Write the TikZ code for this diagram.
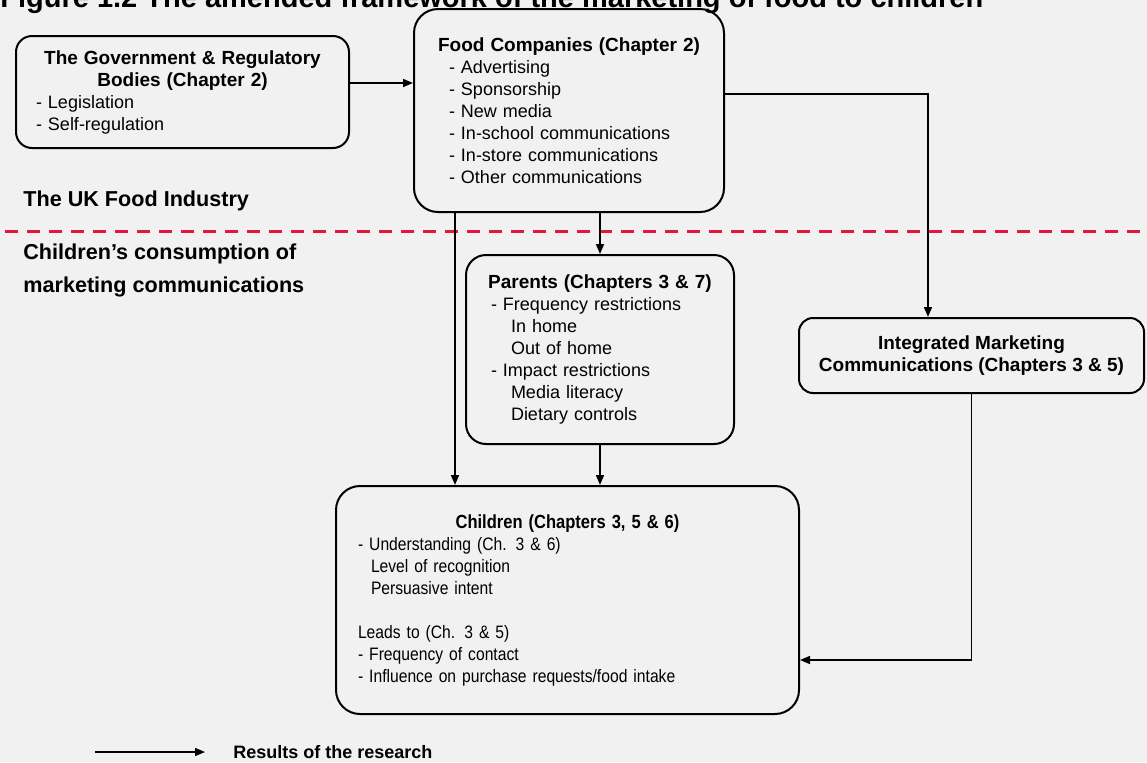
\documentclass[tikz,border=0pt]{standalone}
\usepackage{fontspec}
\setmainfont{Liberation Sans}
\newfontfamily\narrowsf[FakeStretch=0.87]{Liberation Sans}
\usetikzlibrary{arrows.meta}
\definecolor{divred}{RGB}{222,24,62}
\definecolor{scanbg}{RGB}{241,241,241}
\newcommand\hd[1]{\makebox[\linewidth][c]{\fontsize{9.5}{11}\selectfont\bfseries #1}}
\tikzset{
  box_r/.style = {draw, line width=1pt, rounded corners=10pt, anchor=north west, align=left, font=\fontsize{9}{11}\selectfont},
  box_c/.style = {box_r, align=center, font=\fontsize{9.5}{11}\selectfont\bfseries},
  link/.style = {line width=0.75pt, -{Triangle[length=5pt,width=4pt]}},
  divider/.style = {divred, line width=1.5pt, dash pattern=on 6.5pt off 4.5pt},
  sidelabel/.style = {anchor=west, inner sep=0pt, align=left, font=\fontsize{10.8}{16.5}\selectfont\bfseries},
  caption_t/.style = {anchor=base west, inner sep=0pt, font=\fontsize{14.5}{16}\selectfont\bfseries}
}

\begin{document}
\begin{tikzpicture}[x=0.5pt,y=-0.5pt]
\fill[scanbg] (0,0) rectangle (1147,762);
\useasboundingbox (0,0) rectangle (1147,762);

\node[caption_t] (title) at (0,7) {Figure 1.2 The amended framework of the marketing of food to children};

\node[box_r, minimum width=166.5pt, minimum height=56pt, text width=146.5pt, inner xsep=10pt, rounded corners=8pt] (gov) at (15,35)
  {\hd{The Government \& Regulatory}\\ \hd{Bodies (Chapter 2)}\\ - Legislation\\ - Self-regulation};
\node[box_r, minimum width=155pt, minimum height=101.5pt, text width=120pt, inner xsep=17.5pt, rounded corners=12pt] (food) at (413,8)
  {\hd{Food Companies (Chapter 2)}\\ - Advertising\\ - Sponsorship\\ - New media\\ - In-school communications\\ - In-store communications\\ - Other communications};
\node[box_r, minimum width=134pt, minimum height=94.5pt, text width=109pt, inner xsep=12.5pt] (parents) at (465,254)
  {\hd{Parents (Chapters 3 \& 7)}\\ - Frequency restrictions\\ \hspace*{10pt}In home\\ \hspace*{10pt}Out of home\\ - Impact restrictions\\ \hspace*{10pt}Media literacy\\ \hspace*{10pt}Dietary controls};
\node[box_c, minimum width=172.5pt, minimum height=37.5pt, rounded corners=7pt] (imc) at (798,317)
  {Integrated Marketing\\ Communications (Chapters 3 \& 5)};
\node[box_r, minimum width=231.5pt, minimum height=114pt, text width=209.5pt, inner xsep=11pt, rounded corners=12pt, font=\narrowsf\fontsize{9}{11}\selectfont] (kids) at (335,485)
  {\hd{Children (Chapters 3, 5 \& 6)}\\ - Understanding (Ch. 3 \& 6)\\ \hspace*{6.5pt}Level of recognition\\ \hspace*{6.5pt}Persuasive intent\\[11pt] Leads to (Ch. 3 \& 5)\\ - Frequency of contact\\ - Influence on purchase requests/food intake};

\node[sidelabel] (industry) at (23,201) {The UK Food Industry};
\node[sidelabel] (consumption) at (23,270) {Children's consumption of\\ marketing communications};
\draw[divider] (5,231) -- (1140,231);

\coordinate (gfy) at (0,83);
\coordinate (fkx) at (455,0);
\coordinate (fix) at (928,94);
\coordinate (ikx) at (0,660);
\draw[link] (gov.east |- gfy) -- (food.west |- gfy);
\draw[link] (food.south -| parents.north) -- (parents.north);
\draw[link] (food.south -| fkx) -- (kids.north -| fkx);
\draw[link] (parents.south) -- (kids.north -| parents.south);
\draw[link] (food.east |- fix) -| (imc.north -| fix);
\draw[link] (imc.south) |- (kids.east |- ikx);

\coordinate (legfrom) at (95,752);
\node[anchor=west, inner xsep=14pt, inner ysep=0pt, font=\fontsize{9}{11}\selectfont\bfseries] (legend) at (205,752) {Results of the research};
\draw[link] (legfrom) -- (legend.west);
\end{tikzpicture}
\end{document}
